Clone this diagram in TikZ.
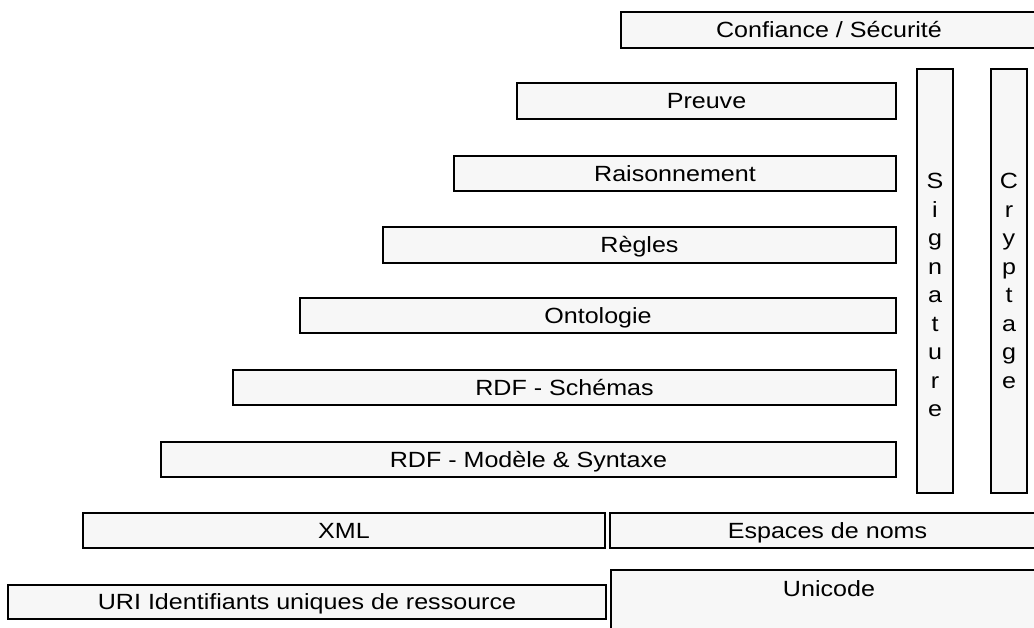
\documentclass[tikz,border=0pt]{standalone}
\usepackage{fontspec}
\setmainfont{Liberation Sans}[FakeStretch=1.14]
\usetikzlibrary{positioning}

\begin{document}
\begin{tikzpicture}[x=1pt,y=-1pt,
layer/.style={rectangle,draw,fill=black!3,line width=1.4pt,
  outer sep=0pt,inner sep=0pt,anchor=north west,
  minimum height=35pt,font=\fontsize{22}{28.5}\selectfont,
  text height=15.8pt,text depth=0pt},
pillar/.style={layer,minimum width=36pt,minimum height=424pt},
txt/.style={inner sep=0pt,font=\fontsize{22}{28.5}\selectfont,
  text height=15.8pt,text depth=0pt},
stack/.style={inner sep=0pt,align=center,font=\fontsize{22}{28.5}\selectfont}
]
\useasboundingbox (0,0) rectangle (1034,628);
% top of the stack
\node[layer,minimum width=416pt,minimum height=36pt] (conf) at (621,12) {Confiance / Sécurité};
\node[layer,minimum width=379pt,minimum height=36pt] (preuve) at (517,83) {Preuve};
\node[layer,minimum width=442pt] (rais) at (454,156) {Raisonnement};
\node[layer,minimum width=513pt,minimum height=36pt] (regles) at (383,227) {Règles};
\node[layer,minimum width=596pt] (onto) at (300,298) {Ontologie};
\node[layer,minimum width=663pt] (rdfs) at (233,370) {RDF - Schémas};
\node[layer,minimum width=735pt] (rdfm) at (161,442) {RDF - Modèle \& Syntaxe};
% vertical columns
\node[pillar] (sig) at (917,69) {};
\node[pillar] (crypt) at (991,69) {};
\node[stack] (sigtxt) [below=104pt of sig.north] {S\\i\\g\\n\\a\\t\\u\\r\\e};
\node[stack] (crypttxt) [below=104pt of crypt.north] {C\\r\\y\\p\\t\\a\\g\\e};
% base layers
\node[layer,minimum width=522pt] (xml) at (83,513) {XML};
\node[layer,minimum width=435pt] (esp) at (610,513) {Espaces de noms};
\node[layer,minimum width=598pt,minimum height=34pt] (uri) at (8,585) {URI Identifiants uniques de ressource};
\node[layer,minimum width=436pt,minimum height=70pt] (uni) at (611,570) {};
\node[txt] (unitxt) [below=10pt of uni.north] {Unicode};
\end{tikzpicture}
\end{document}
